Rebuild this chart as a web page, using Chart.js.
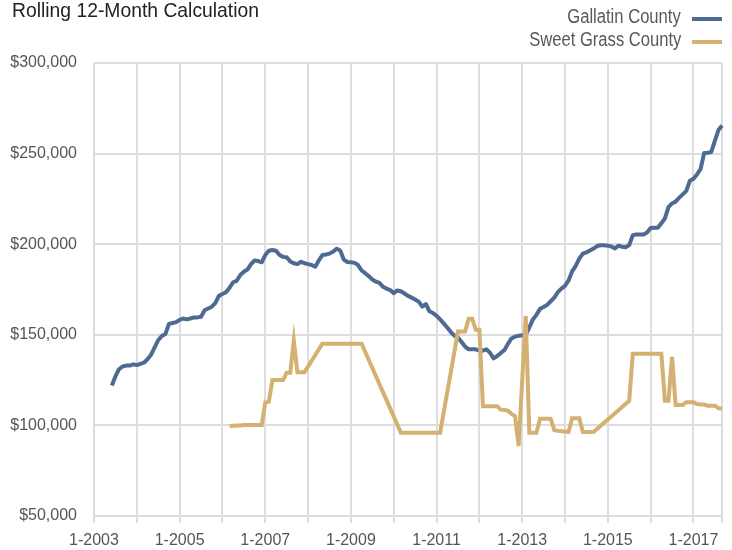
<!DOCTYPE html>
<html>
<head>
<meta charset="utf-8">
<title>Rolling 12-Month Calculation</title>
<script src="https://cdn.jsdelivr.net/npm/chart.js@4.4.0/dist/chart.umd.min.js"></script>
<style>
  html, body { margin: 0; padding: 0; background: #fff; }
  #wrap { position: relative; width: 732px; height: 550px; overflow: hidden; }
  #chart { position: absolute; left: 0; top: 0; }
  .txt { font-family: "Liberation Sans", Arial, sans-serif; }
  #title { position: absolute; left: 12px; top: -1px; font-size: 21px; line-height: 21px; color: #222; white-space: nowrap;
           transform: scaleX(0.92); transform-origin: left top; }
  #legend { position: absolute; right: 10px; top: 5px; color: #595959; font-size: 20px; line-height: 23.4px; }
  .leg-row { display: flex; justify-content: flex-end; align-items: center; white-space: nowrap; }
  .leg-name { display: inline-block; transform: scaleX(0.83); transform-origin: right center; }
  .leg-swatch { display: inline-block; width: 30px; height: 4px; margin-left: 11px; position: relative; top: 2px; }
</style>
</head>
<body>
<div id="wrap">
  <canvas id="chart" width="732" height="550"></canvas>
  <div id="title" class="txt">Rolling 12-Month Calculation</div>
  <div id="legend" class="txt"></div>
</div>
<script>
// months run 1-2003 .. 9-2017
const firstYear = 2003;
const lastYear = 2017;
const lastMonth = 9;

const gallatinName = 'Gallatin County';
const sweetGrassName = 'Sweet Grass County';
const gallatinColor = '#4e6a93';
const sweetGrassColor = '#d4b172';
const gridColor = '#dddddd';

// Gallatin starts 6-2003
const gallatinStart = '6-2003';
const gallatin = [
  122000, 127000, 131000, 132500, 133000, 133000, 133700, 133300, 134000, 134600,
  136500, 139000, 143000, 147000, 149300, 150400, 156000, 156500, 157000, 158200,
  159000, 158500, 159000, 159600, 159600, 160000, 163500, 164500, 165500, 167500,
  171500, 172500, 173500, 176000, 179000, 179800, 183000, 184800, 186000, 189000,
  191000, 190700, 190000, 194000, 196400, 196800, 196400, 194000, 193000, 192800,
  190500, 189500, 189000, 190300, 189500, 189000, 188500, 187600, 191000, 194000,
  194300, 194800, 195900, 197500, 196500, 191500, 190200, 190000, 189700, 188500,
  185500, 184000, 182400, 180500, 179300, 178600, 176500, 175500, 174700, 173000,
  174500, 174000, 172800, 171500, 170500, 169500, 168300, 165500, 167000, 163000,
  162000, 160500, 158500, 156300, 154000, 151500, 149500, 148500, 146000, 143500,
  142000, 142000, 142000, 141200, 141300, 142000, 140000, 137000, 138300, 140000,
  141500, 145000, 148000, 149000, 149500, 149700, 150000, 154000, 158500, 161000,
  164300, 165300, 166500, 168500, 170500, 173500, 175500, 177000, 180000, 185000,
  188000, 192000, 194800, 195500, 196500, 197600, 199000, 199400, 199400, 199200,
  198700, 197700, 199200, 198600, 198300, 199500, 205000, 205400, 205400, 205400,
  206500, 209000, 209100, 209100, 211500, 214300, 220500, 222500, 223500, 225700,
  227500, 229400, 235000, 236100, 238500, 241500, 250300, 250500, 250900, 257000,
  263000, 265500
];

// Sweet Grass starts 3-2006, null = no sale that month (line spans it)
const sweetGrassStart = '3-2006';
const sweetGrass = [
  99500, 99800, 100000, 100000, 100200, 100200, 100200, 100200, 100200, 100200,
  112700, 113000, 125000, 125000, 125000, 125000, 129100, 129100, 146900, 129400,
  129400, 129400, null, null, null, null, 145100, null, null, null,
  null, null, null, null, null, null, null, 145100, null, null,
  null, null, null, null, null, null, null, null, 96000, null,
  null, null, null, null, null, null, null, null, null, 96000,
  null, null, null, null, 151800, null, 151800, 158800, 158800, 152800,
  152800, 110600, 110600, 110600, 110600, 110600, 108700, 108500, 108200, 106400,
  105100, 88600, null, 160400, 96000, 96000, 96000, 103700, 103700, 103700,
  103700, 97300, 97000, 96800, 96600, 96400, 104000, 104000, 104000, 96400,
  96400, 96400, 96400, null, null, null, null, null, null, null,
  null, null, 113600, 139500, null, null, null, null, null, null,
  null, 139500, 113600, 113600, 137800, 111300, 111300, 111300, 112800, 112800,
  112800, 111800, 111500, 111500, 110900, 110900, 110900, 109500, 109200
];

const yTicks = [50000, 100000, 150000, 200000, 250000, 300000];

const monthLabels = [];
for (let y = firstYear; y <= lastYear; y++) {
  for (let m = 1; m <= 12; m++) {
    if (y === lastYear && m > lastMonth) break;
    monthLabels.push(m + '-' + y);
  }
}

function alignSeries(start, values) {
  const out = new Array(monthLabels.length).fill(null);
  const offset = monthLabels.indexOf(start);
  values.forEach((v, i) => { out[offset + i] = v; });
  return out;
}

const tickFont = { family: '"Liberation Sans", Arial, sans-serif', size: 16 };

const chart = new Chart(document.getElementById('chart'), {
  type: 'line',
  data: {
    labels: monthLabels,
    datasets: [
      {
        label: gallatinName,
        data: alignSeries(gallatinStart, gallatin),
        borderColor: gallatinColor,
        backgroundColor: gallatinColor,
        borderWidth: 4,
        borderJoinStyle: 'round',
        pointRadius: 0,
        tension: 0,
        spanGaps: true,
        order: 1
      },
      {
        label: sweetGrassName,
        data: alignSeries(sweetGrassStart, sweetGrass),
        borderColor: sweetGrassColor,
        backgroundColor: sweetGrassColor,
        borderWidth: 4,
        pointRadius: 0,
        tension: 0,
        spanGaps: true,
        order: 0
      }
    ]
  },
  options: {
    responsive: false,
    animation: false,
    devicePixelRatio: 1,
    layout: { padding: { top: 63, right: 10, bottom: 0, left: 10 } },
    plugins: {
      legend: { display: false },
      tooltip: { enabled: false }
    },
    scales: {
      x: {
        afterFit: s => { s.height = 34; },
        grid: { color: gridColor, lineWidth: 2, tickLength: 7, tickColor: gridColor },
        border: { color: gridColor, width: 2 },
        ticks: {
          autoSkip: false,
          maxRotation: 0,
          minRotation: 0,
          padding: 8,
          color: '#555',
          font: tickFont,
          callback: function (value, index) {
            const parts = monthLabels[index].split('-');
            if (index === monthLabels.length - 1) return '';
            if (parts[0] !== '1') return null;
            return (Number(parts[1]) % 2 === 1) ? monthLabels[index] : '';
          }
        }
      },
      y: {
        min: 50000,
        max: 300000,
        afterFit: s => { s.width = 84; },
        afterBuildTicks: s => { s.ticks = yTicks.map(v => ({ value: v })); },
        grid: { color: gridColor, lineWidth: 2, drawTicks: false },
        border: { display: false },
        ticks: {
          padding: 17,
          color: '#555',
          font: tickFont,
          callback: v => '$' + v.toLocaleString('en-US')
        }
      }
    }
  }
});

// html legend, swatch on the right of the name
const legend = document.getElementById('legend');
chart.data.datasets.forEach(ds => {
  const row = document.createElement('div');
  row.className = 'leg-row';
  const name = document.createElement('span');
  name.className = 'leg-name';
  name.textContent = ds.label;
  const sw = document.createElement('span');
  sw.className = 'leg-swatch';
  sw.style.background = ds.borderColor;
  row.appendChild(name);
  row.appendChild(sw);
  legend.appendChild(row);
});
</script>
</body>
</html>
